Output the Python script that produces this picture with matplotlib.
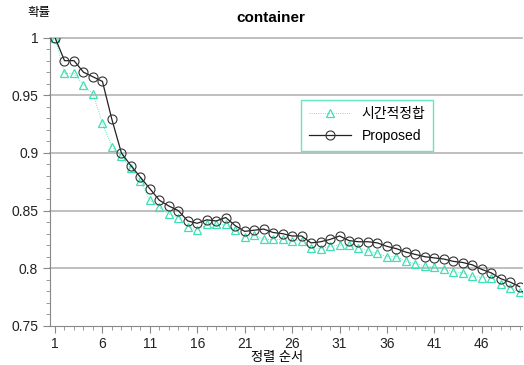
"""Recreate the 'container' probability chart"""

import matplotlib.pyplot as plt
from matplotlib.ticker import MultipleLocator, FixedLocator

plt.rcParams['font.family'] = ['Liberation Sans', 'Noto Sans CJK KR', 'DejaVu Sans']

order = list(range(1, 51))
temporal = [1.0, 0.969, 0.969, 0.959, 0.951, 0.926, 0.905, 0.897, 0.887, 0.876,
            0.859, 0.853, 0.847, 0.844, 0.836, 0.833, 0.838, 0.838, 0.838, 0.833,
            0.827, 0.829, 0.825, 0.825, 0.825, 0.824, 0.824, 0.818, 0.817, 0.819,
            0.820, 0.820, 0.818, 0.815, 0.813, 0.810, 0.810, 0.806, 0.804, 0.802,
            0.801, 0.799, 0.797, 0.796, 0.793, 0.792, 0.792, 0.786, 0.783, 0.779]
proposed = [1.0, 0.980, 0.980, 0.970, 0.966, 0.962, 0.929, 0.900, 0.889, 0.879,
            0.869, 0.859, 0.854, 0.850, 0.841, 0.839, 0.842, 0.841, 0.844, 0.837,
            0.832, 0.833, 0.834, 0.831, 0.830, 0.828, 0.828, 0.822, 0.823, 0.825,
            0.828, 0.824, 0.823, 0.823, 0.822, 0.819, 0.817, 0.814, 0.812, 0.810,
            0.809, 0.808, 0.806, 0.805, 0.803, 0.799, 0.796, 0.791, 0.788, 0.784]
x_ticks = [1, 6, 11, 16, 21, 26, 31, 36, 41, 46]
y_ticks = [0.75, 0.8, 0.85, 0.9, 0.95, 1]
y_labels = ['0.75', '0.8', '0.85', '0.9', '0.95', '1']

teal = '#3ee0b4'

fig = plt.figure(figsize=(5.24, 3.65), dpi=100)
ax = fig.add_axes([0.0954, 0.107, 0.9, 0.79])

ax.plot(order, temporal, color=teal, lw=0.6, ls=':', marker='^', ms=6,
        mfc='none', mec=teal, mew=0.9, label='시간적정합', zorder=3)
ax.plot(order, proposed, color='#222222', lw=0.9, marker='o', ms=6.5,
        mfc='none', mec='#333333', mew=0.8, label='Proposed', zorder=4)

ax.set_xlim(0.47, 50.2)
ax.set_ylim(0.75, 1.0)
ax.xaxis.set_major_locator(FixedLocator(x_ticks))
ax.xaxis.set_minor_locator(MultipleLocator(1))
ax.set_yticks(y_ticks)
ax.set_yticklabels(y_labels)
ax.yaxis.set_minor_locator(MultipleLocator(0.01))
ax.tick_params(which='both', colors='#888888', labelcolor='#222222', labelsize=10)
ax.tick_params(which='major', length=5)
ax.tick_params(which='minor', length=3)
ax.tick_params(axis='x', pad=3)

for yv in [0.8, 0.85, 0.9, 0.95, 1.0]:
    ax.axhline(yv, color='#b4b4b4', lw=1.2, zorder=1, clip_on=False)

for side in ['top', 'right']:
    ax.spines[side].set_visible(False)
for side in ['left', 'bottom']:
    ax.spines[side].set_color('#888888')

fig.text(0.516, 0.95, 'container', ha='center', va='center',
         fontsize=11, fontweight='bold')
fig.text(0.075, 0.965, '확률', ha='center', va='center', fontsize=9)
fig.text(0.529, 0.018, '정렬 순서', ha='center', va='center', fontsize=9.5)

leg = ax.legend(loc='upper left', bbox_to_anchor=(0.533, 0.785), frameon=True,
                fancybox=False, edgecolor=teal, fontsize=10, labelspacing=0.55,
                handlelength=3, borderpad=0.55, borderaxespad=0)
leg.get_frame().set_linewidth(1.0)

fig.savefig('out.png', dpi=100)
